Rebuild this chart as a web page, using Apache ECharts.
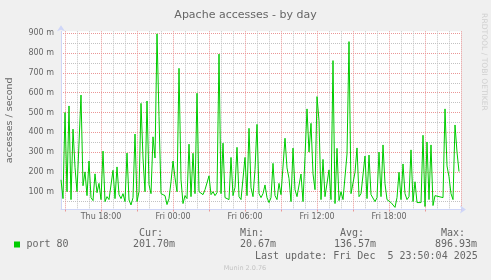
<!DOCTYPE html>
<html><head><meta charset="utf-8">
<script src="https://cdn.jsdelivr.net/npm/echarts@6/dist/echarts.min.js"></script>
<style>html,body{margin:0;padding:0;background:#F0F0F0}#c{width:491px;height:280px}</style>
</head><body><div id="c"></div>
<script>
// ---- data ----
const chartTitle = 'Apache accesses - by day';
const yAxisName = 'accesses / second';
const seriesName = 'port 80';
const dayNames = ['Thu', 'Fri', 'Sat'];
const startMinute = 14 * 60 + 40;   // Thu 14:40
const stepMinutes = 10;
const slotCount = 201;
const timeLabels = ['Thu 18:00', 'Fri 00:00', 'Fri 06:00', 'Fri 12:00', 'Fri 18:00'];
const yTickValues = [100, 200, 300, 400, 500, 600, 700, 800, 900];
const statHeaders = ['Cur:', 'Min:', 'Avg:', 'Max:'];
const statValues = ['201.70m', '20.67m', '136.57m', '896.93m'];
const lastUpdate = 'Last update: Fri Dec  5 23:50:04 2025';
const versionText = 'Munin 2.0.76';
const watermark = 'RRDTOOL / TOBI OETIKER';
// accesses per second, in milli (m) units, one value per 10 minutes from Thu 14:40
const accesses = [
  160, 65, 500, 100, 533, 60, 416, 223, 100, 110,
  588, 130, 200, 80, 255, 70, 55, 190, 95, 142,
  60, 305, 50, 75, 60, 55, 208, 65, 225, 85,
  65, 90, 50, 295, 58, 33, 70, 391, 50, 100,
  546, 270, 100, 558, 135, 90, 377, 270, 896.93, 479,
  90, 90, 80, 35, 65, 150, 255, 170, 100, 723,
  160, 40, 80, 65, 340, 75, 294, 90, 597, 100,
  90, 85, 110, 100, 180, 85, 100, 80, 95, 795,
  90, 345, 70, 75, 60, 273, 80, 122, 324, 75,
  60, 70, 273, 80, 420, 120, 75, 212, 440, 90,
  70, 90, 134, 70, 45, 70, 243, 80, 60, 142,
  85, 90, 370, 220, 167, 50, 320, 110, 75, 80,
  189, 50, 277, 518, 300, 445, 190, 110, 580, 459,
  60, 263, 75, 65, 210, 60, 762, 40, 319, 55,
  100, 60, 70, 290, 858, 90, 100, 198, 321, 75,
  90, 100, 280, 65, 285, 85, 80, 50, 70, 300,
  75, 336, 140, 60, 60, 45, 50, 20.67, 70, 198,
  60, 240, 90, 60, 75, 311, 50, 150, 45, 35,
  45, 385, 25, 351, 60, 336, 30, 80, 80, 75,
  80, 70, 518, 230, 175, 90, 60, 437, 300, 201.7
];

// ---- axis categories (10-minute slots) ----
const categories = [];
for (let k = 0; k < slotCount; k++) {
  const t = startMinute + k * stepMinutes;
  const d = dayNames[Math.floor(t / 1440)];
  const hh = Math.floor((t % 1440) / 60);
  const mm = t % 60;
  categories.push(d + ' ' + String(hh).padStart(2, '0') + ':' + String(mm).padStart(2, '0'));
}
const isHour = v => v.endsWith(':00');
const isThreeHour = v => isHour(v) && (parseInt(v.slice(4, 6), 10) % 3 === 0);

const MGRID = '#EA9696', GRID = '#C2C2C2', AXIS = '#CFD6F8', FONT = '#666666';
const sans = 'DejaVu Sans', mono = 'DejaVu Sans Mono';
const T = 'rgba(0,0,0,0)';

const chart = echarts.init(document.getElementById('c'), null, {renderer: 'canvas'});

const graphics = [];
graphics.push({type: 'rect', shape: {x: 14, y: 241.5, width: 6, height: 6}, style: {fill: '#00CC00'}});
graphics.push({type: 'text', x: 26.5, y: 244.5, style: {text: seriesName, font: '10px "' + mono + '"', fill: FONT, verticalAlign: 'middle'}});
const colHeaderX = [139, 240, 340, 441];
const colValueX = [133, 240, 334, 435];
statHeaders.forEach((h, i) => graphics.push({type: 'text', x: colHeaderX[i], y: 233, style: {text: h, font: '10px "' + mono + '"', fill: FONT, verticalAlign: 'middle'}}));
statValues.forEach((v, i) => graphics.push({type: 'text', x: colValueX[i], y: 244.5, style: {text: v, font: '10px "' + mono + '"', fill: FONT, verticalAlign: 'middle'}}));
graphics.push({type: 'text', x: 255, y: 256.7, style: {text: lastUpdate, font: '10px "' + mono + '"', fill: FONT, verticalAlign: 'middle'}});
graphics.push({type: 'text', x: 245, y: 268.3, style: {text: versionText, font: '6.5px "' + sans + '"', fill: '#C4C4C4', align: 'center', verticalAlign: 'middle'}});
graphics.push({type: 'text', x: 484, y: 62, rotation: -Math.PI / 2, style: {text: watermark, font: '7.6px "' + sans + '"', fill: '#D0D0D0', align: 'center', verticalAlign: 'middle'}});

chart.setOption({
  animation: false,
  backgroundColor: '#F0F0F0',
  title: {
    text: chartTitle, left: 'center', top: 5,
    textStyle: {fontFamily: sans, fontSize: 11, fontWeight: 'normal', color: FONT}
  },
  grid: {
    left: 61, right: 30, top: 31.3, bottom: 70.5,
    show: true, backgroundColor: '#FFFFFF', borderWidth: 0,
    containLabel: false, outerBoundsMode: 'none'
  },
  xAxis: {
    type: 'category', data: categories, boundaryGap: false,
    axisLine: {show: true, lineStyle: {color: AXIS, width: 1}, symbol: ['none', 'arrow'], symbolSize: [6, 6], symbolOffset: [0, 5]},
    axisTick: {show: true, length: 2, interval: (i, v) => isThreeHour(v), lineStyle: {color: MGRID}},
    axisLabel: {
      interval: (i, v) => timeLabels.indexOf(v) >= 0,
      color: FONT, fontFamily: sans, fontSize: 8, margin: 3
    },
    splitLine: {show: true, interval: (i, v) => isHour(v), lineStyle: {color: [MGRID, GRID, GRID], type: [1, 1], width: 1}}
  },
  yAxis: {
    type: 'value', min: 10, max: 910, interval: 10,
    name: yAxisName, nameLocation: 'middle', nameGap: 46, nameRotate: 90,
    nameTextStyle: {fontFamily: sans, fontSize: 9.5, color: FONT},
    axisLine: {show: true, lineStyle: {color: AXIS, width: 1}, symbol: ['none', 'arrow'], symbolSize: [6, 6], symbolOffset: [0, 6]},
    axisTick: {show: false},
    axisLabel: {
      color: FONT, fontFamily: sans, fontSize: 8, margin: 7,
      formatter: v => (yTickValues.indexOf(Math.round(v)) >= 0 ? Math.round(v) + ' m' : '')
    },
    splitLine: {show: true, lineStyle: {color: [T, T, T, T, GRID, T, T, T, T, MGRID], type: [1, 1], width: 1}}
  },
  series: [{
    name: seriesName, type: 'line', data: accesses, symbol: 'none',
    lineStyle: {color: '#00CC00', width: 1}, itemStyle: {color: '#00CC00'}, z: 5
  }],
  graphic: graphics
});
</script></body></html>
